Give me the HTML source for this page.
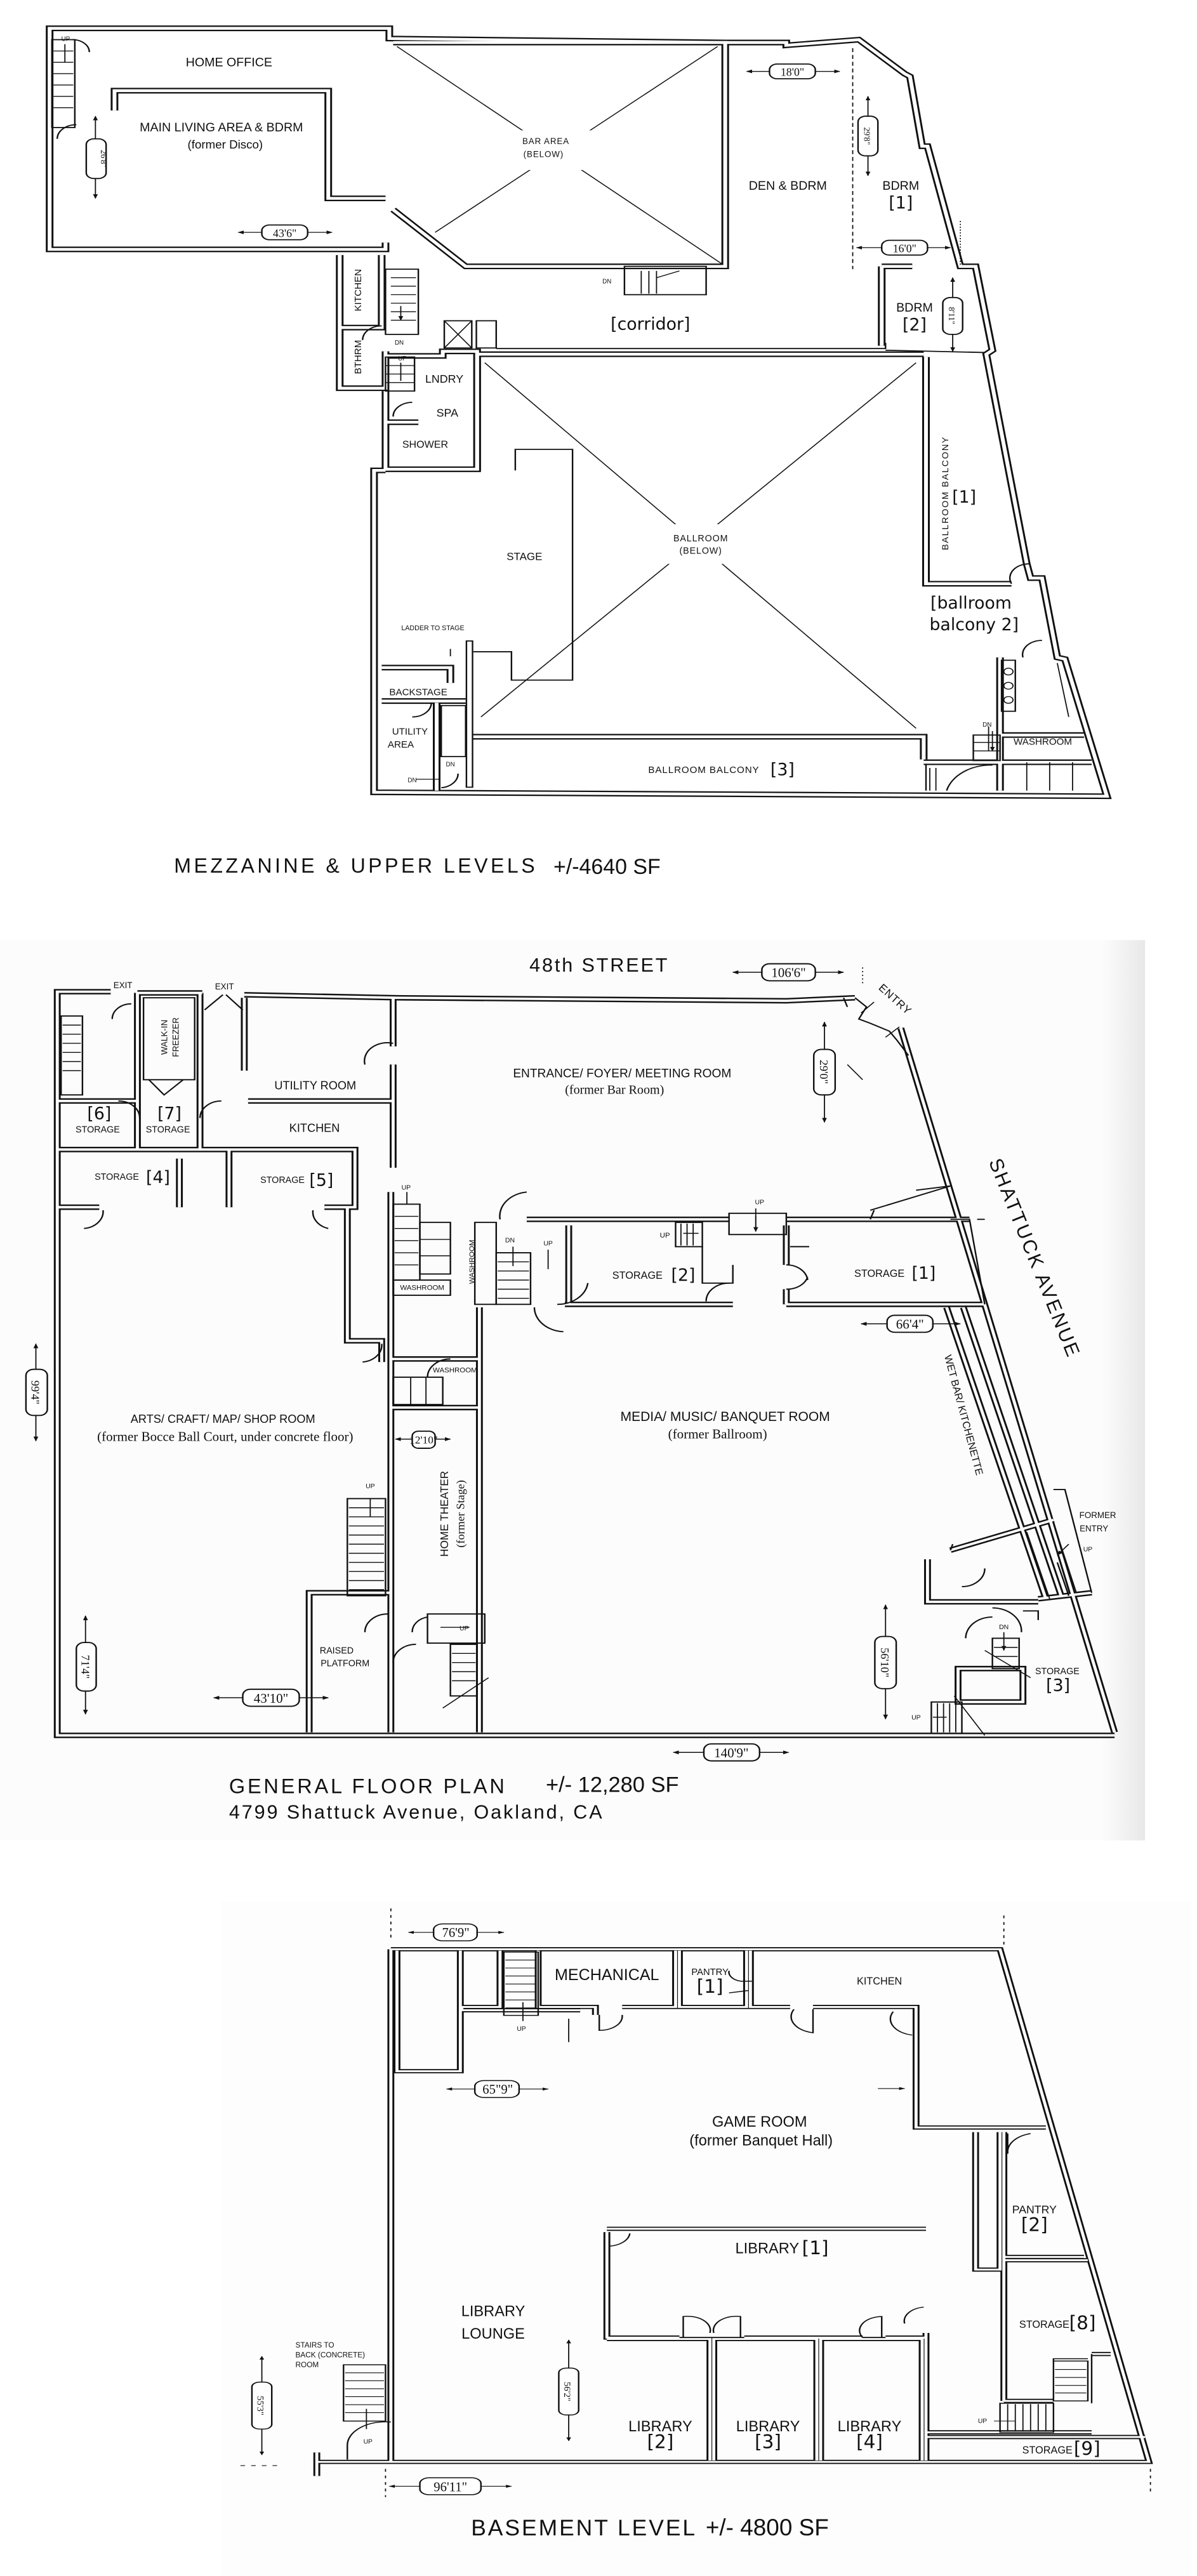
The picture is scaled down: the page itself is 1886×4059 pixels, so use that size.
<!DOCTYPE html>
<html><head><meta charset="utf-8"><style>
html,body{margin:0;padding:0;background:#fff}
svg{display:block}
text{font-family:"Liberation Sans",sans-serif;fill:#111}
.s{font-family:"Liberation Serif",serif}
.m{font-family:"DejaVu Sans","Liberation Sans",sans-serif}
.t{fill:none;stroke:#111;stroke-width:2}
.d{fill:none;stroke:#111;stroke-width:1.5}
.pill{fill:#fff;stroke:#111;stroke-width:2}
</style></head><body>
<svg width="1886" height="4059" viewBox="0 0 1886 4059" xmlns="http://www.w3.org/2000/svg">
<defs>
<marker id="ar" viewBox="0 0 10 10" refX="9" refY="5" markerWidth="8" markerHeight="8" orient="auto-start-reverse" markerUnits="userSpaceOnUse"><path d="M0,1 L10,5 L0,9 z" fill="#111"/></marker>
<linearGradient id="gs" x1="0" x2="1" y1="0" y2="0"><stop offset="0" stop-color="#fdfdfd"/><stop offset="1" stop-color="#e8e8e8"/></linearGradient>

<g id="w1">
<path d="M505,428 L505,440 L65,440 L65,50 L510,50 L510,68 L955,75 L1030,75 L1030,80 L1125,70 L1185,130 L1192,135 L1208,258 L1215,258 L1258,470 L1278,470 L1300,618 L1292,625 L1345,995 L1350,1020 L1365,1020 L1385,1160 L1395,1163 L1450,1405 L490,1398 L490,830 L505,830"/>
<path d="M445,450 L445,685 L505,685 L505,620 M445,578 L500,578 L500,450"/>
<path d="M505,690 L505,828 L625,828 L625,620 L580,620 L580,628 L505,628 M505,745 L548,745"/>
<path d="M515,75 L950,75 L950,470 L610,470 L515,370"/>
<path d="M625,625 L625,830 M625,625 L1210,625 M1213,630 L1213,1030 L1325,1030 M615,1300 L1210,1300 L1210,1340"/>
<path d="M1155,470 L1195,470 M1155,470 L1155,610"/>
<path d="M150,195 L150,160 L430,160 L430,350 L505,350"/>
<path d="M500,1178 L590,1178 L590,1205 M500,1237 L610,1237 M572,1240 L572,1395"/>
<path d="M1310,1160 L1310,1395 M1310,1297 L1420,1297 M1210,1345 L1430,1345"/>
</g>
<g id="w2">
<path d="M145,170 L75,170 L75,1395 L1460,1395 M1460,1390 L1180,230 M320,175 L520,180 L1030,185 L1120,180 M180,172 L265,172"/>
<path d="M75,430 L465,430 L465,525 L425,525 M75,525 L130,525 M235,445 L235,525 M300,430 L300,525 M75,350 L180,350 M180,172 L180,430 M262,172 L262,430"/>
<path d="M320,180 L320,300 M325,350 L515,350 M515,180 L515,260 M515,290 L515,460 M455,525 L455,745 L500,745 L500,780"/>
<path d="M512,500 L512,1390 M628,690 L628,1390 M512,855 L628,855 M512,775 L628,775"/>
<path d="M690,545 L955,545 M1030,545 L1270,545 M740,685 L960,685 M1030,685 L1290,685 M745,555 L745,685 M1030,555 L1030,620 M1030,660 L1030,685"/>
<path d="M1240,690 L1370,1170 M1262,690 L1390,1165"/>
<path d="M1215,1105 L1215,1175 L1360,1175 M1360,1170 L1430,1160 M1245,1090 L1380,1040"/>
<path d="M405,1390 L405,1160 L510,1160"/>
<path d="M1255,1285 L1340,1285 L1340,1340 L1255,1340 Z"/>
</g>
<g id="w3">
<path d="M512,232 L1310,232 L1505,1325 L415,1325 M512,232 L512,1325"/>
<path d="M520,235 L520,492 L603,492 L603,235 M605,362 L760,362 M605,362 L605,355 L655,355 L655,235"/>
<path d="M705,235 L705,355 L780,355 L780,372 M815,355 L885,355 L885,235 M890,235 L890,355 L978,355 L978,235 M983,235 L983,355 L1035,355 M1065,355 L1200,355 L1200,612 L1370,612"/>
<path d="M1278,622 L1278,915 L1310,915 L1310,622 M1315,622 L1315,1195 M1315,888 L1420,888 M1315,895 L1425,895 M1315,1195 L1380,1195 M1430,1095 L1455,1095"/>
<path d="M1213,1262 L1430,1262 M1213,1272 L1500,1272 M1213,1050 L1213,1322"/>
<path d="M795,828 L1213,828 M795,835 L795,1060 L890,1060 M975,1060 L1130,1060 M1160,1060 L1213,1060"/>
<path d="M795,1063 L930,1063 L930,1322 M935,1322 L935,1063 L1070,1063 L1070,1322 M1075,1322 L1075,1063 L1208,1063 L1208,1322"/>
<path d="M415,1305 L415,1355"/>
</g>
</defs>

<!-- ================= SECTION 1: MEZZANINE ================= -->
<g transform="scale(1.2028,0.893)">
<use href="#w1" fill="none" stroke="#111" stroke-width="10" stroke-linejoin="miter"/>
<use href="#w1" fill="none" stroke="#fff" stroke-width="5"/>
<path class="d" d="M520,82 L945,465 M940,82 L570,410 M635,640 L1200,1285 M1200,640 L630,1265"/>
<rect x="640" y="230" width="150" height="70" fill="#fff"/>
<rect x="840" y="925" width="150" height="70" fill="#fff"/>
<path class="t" d="M650,615 L1160,615 L1160,605 M1160,618 L1290,622"/>
<rect class="t" x="582" y="566" width="36" height="48"/><path class="d" d="M582,566 L618,614 M618,566 L582,614"/>
<rect class="t" x="624" y="566" width="26" height="48"/>
<rect class="t" x="505" y="475" width="43" height="115"/>
<path class="d" d="M512,490 L545,490 M512,505 L545,505 M512,520 L545,520 M512,535 L545,535 M512,550 L545,550 M512,565 L545,565"/>
<rect class="t" x="818" y="470" width="107" height="50"/><path class="d" d="M840,478 L840,518 M850,478 L850,518 M860,478 L860,518 M860,490 L890,478"/>
<rect class="t" x="505" y="630" width="38" height="60"/><path class="d" d="M505,645 L543,645 M505,660 L543,660 M505,675 L543,675"/>
<path class="t" d="M675,830 L675,793 L750,793 L750,1200 L670,1200 L670,1150 L620,1150"/>
<rect x="610" y="1130" width="10" height="260" fill="#111"/><rect x="612" y="1132" width="6" height="256" fill="#fff"/>
<rect class="t" x="578" y="1245" width="32" height="90"/>
<path class="d" d="M1117,85 L1117,475" stroke-dasharray="7,5"/>
<path class="d" d="M1258,390 L1258,470" stroke-dasharray="2,3"/>
<rect class="t" x="68" y="70" width="30" height="155"/><path class="d" d="M70,90 L96,90 M70,110 L96,110 M70,130 L96,130 M70,150 L96,150 M70,170 L96,170 M70,190 L96,190"/>
<path class="t" d="M75,245 A25,25 0 0 1 100,220 M95,70 A22,22 0 0 1 117,92"/>
<path class="t" d="M475,600 A25,25 0 0 1 500,575 M515,735 A25,25 0 0 1 540,710 M540,1265 A25,25 0 0 0 565,1240 M578,1390 A25,25 0 0 0 600,1365 M1325,1030 A25,25 0 0 1 1350,995 M1340,1160 A25,25 0 0 1 1365,1130"/>
<rect class="t" x="1312" y="1165" width="18" height="90"/>
<circle class="d" cx="1321" cy="1185" r="6"/><circle class="d" cx="1321" cy="1210" r="6"/><circle class="d" cx="1321" cy="1235" r="6"/>
<path class="d" d="M1385,1170 L1400,1265 M1345,1345 L1345,1395 M1375,1345 L1375,1395 M1405,1345 L1405,1395"/>
<rect class="t" x="1275" y="1297" width="35" height="45"/><path class="d" d="M1275,1310 L1310,1310 M1275,1325 L1310,1325"/>
<path class="t" d="M1213,1350 L1213,1395 M1240,1395 A60,60 0 0 1 1300,1350"/>
<path class="d" d="M1218,1355 L1218,1395 M1226,1355 L1226,1395"/>
<path class="d" d="M125,205 L125,245 M125,315 L125,350" marker-start="url(#ar)" marker-end="url(#ar)"/>
<rect class="pill" x="113" y="245" width="26" height="70" rx="10"/>
<path class="d" d="M312,410 L343,410 M403,410 L435,410" marker-start="url(#ar)" marker-end="url(#ar)"/>
<rect class="pill" x="343" y="397" width="60" height="26" rx="10"/>
<path class="d" d="M978,126 L1008,126 M1068,126 L1100,126" marker-start="url(#ar)" marker-end="url(#ar)"/>
<rect class="pill" x="1008" y="113" width="60" height="26" rx="10"/>
<path class="d" d="M1137,170 L1137,205 M1137,275 L1137,310" marker-start="url(#ar)" marker-end="url(#ar)"/>
<rect class="pill" x="1124" y="205" width="26" height="70" rx="10"/>
<path class="d" d="M1122,437 L1155,437 M1215,437 L1245,437" marker-start="url(#ar)" marker-end="url(#ar)"/>
<rect class="pill" x="1155" y="424" width="60" height="26" rx="10"/>
<path class="d" d="M1248,490 L1248,525 M1248,590 L1248,620" marker-start="url(#ar)" marker-end="url(#ar)"/>
<rect class="pill" x="1235" y="525" width="26" height="65" rx="10"/>
<path class="d" d="M85,78 L85,110 M525,640 L525,672 M590,1145 L590,1158 M1295,1282 L1295,1325 M545,1375 L575,1375 M1300,1290 L1300,1325" marker-end="url(#ar)"/>
<path class="d" d="M525,540 L525,565" marker-end="url(#ar)"/>

<text transform="translate(300,117) scale(0.742,1)" font-size="22" text-anchor="middle">HOME OFFICE</text>
<text transform="translate(290,232) scale(0.742,1)" font-size="22" text-anchor="middle">MAIN LIVING AREA &amp; BDRM</text>
<text transform="translate(295,262) scale(0.742,1)" font-size="21" text-anchor="middle">(former Disco)</text>
<text transform="translate(715,254) scale(0.742,1)" font-size="15" text-anchor="middle" letter-spacing="1">BAR AREA</text>
<text transform="translate(712,277) scale(0.742,1)" font-size="15" text-anchor="middle" letter-spacing="1">(BELOW)</text>
<text transform="translate(1032,335) scale(0.742,1)" font-size="22" text-anchor="middle">DEN &amp; BDRM</text>
<text transform="translate(1180,335) scale(0.742,1)" font-size="22" text-anchor="middle">BDRM</text>
<text class="m" transform="translate(1180,368) scale(0.742,1)" font-size="30" text-anchor="middle">[1]</text>
<text class="m" transform="translate(852,582) scale(0.742,1)" font-size="30" text-anchor="middle">[corridor]</text>
<text transform="translate(1198,550) scale(0.742,1)" font-size="22" text-anchor="middle">BDRM</text>
<text class="m" transform="translate(1198,583) scale(0.742,1)" font-size="30" text-anchor="middle">[2]</text>
<text transform="translate(473,512) scale(0.742,1) rotate(-90)" font-size="17" text-anchor="middle">KITCHEN</text>
<text transform="translate(473,630) scale(0.742,1) rotate(-90)" font-size="17" text-anchor="middle">BTHRM</text>
<text transform="translate(582,675) scale(0.742,1)" font-size="20" text-anchor="middle">LNDRY</text>
<text transform="translate(586,735) scale(0.742,1)" font-size="20" text-anchor="middle">SPA</text>
<text transform="translate(557,790) scale(0.742,1)" font-size="18" text-anchor="middle">SHOWER</text>
<text transform="translate(687,988) scale(0.742,1)" font-size="19" text-anchor="middle">STAGE</text>
<text transform="translate(918,955) scale(0.742,1)" font-size="16" text-anchor="middle" letter-spacing="1">BALLROOM</text>
<text transform="translate(918,977) scale(0.742,1)" font-size="16" text-anchor="middle" letter-spacing="1">(BELOW)</text>
<text transform="translate(1242,870) scale(0.742,1) rotate(-90)" font-size="16" text-anchor="middle" letter-spacing="2">BALLROOM BALCONY</text>
<text class="m" transform="translate(1263,887) scale(0.742,1)" font-size="30" text-anchor="middle">[1]</text>
<text class="m" transform="translate(1272,1074) scale(0.742,1)" font-size="30" text-anchor="middle">[ballroom</text>
<text class="m" transform="translate(1276,1112) scale(0.742,1)" font-size="30" text-anchor="middle">balcony 2]</text>
<text transform="translate(567,1112) scale(0.742,1)" font-size="12" text-anchor="middle">LADDER TO STAGE</text>
<text transform="translate(548,1227) scale(0.742,1)" font-size="17" text-anchor="middle">BACKSTAGE</text>
<text transform="translate(537,1296) scale(0.742,1)" font-size="17" text-anchor="middle">UTILITY</text>
<text transform="translate(525,1319) scale(0.742,1)" font-size="17" text-anchor="middle">AREA</text>
<text transform="translate(1366,1314) scale(0.742,1)" font-size="17" text-anchor="middle">WASHROOM</text>
<text transform="translate(922,1364) scale(0.742,1)" font-size="17" text-anchor="middle" letter-spacing="1">BALLROOM BALCONY</text>
<text class="m" transform="translate(1025,1368) scale(0.742,1)" font-size="30" text-anchor="middle">[3]</text>
<text transform="translate(86,72) scale(0.742,1)" font-size="11" text-anchor="middle">UP</text>
<text transform="translate(795,500) scale(0.742,1)" font-size="11" text-anchor="middle">DN</text>
<text transform="translate(523,608) scale(0.742,1)" font-size="11" text-anchor="middle">DN</text>
<text transform="translate(527,636) scale(0.742,1)" font-size="11" text-anchor="middle">UP</text>
<text transform="translate(590,1352) scale(0.742,1)" font-size="11" text-anchor="middle">DN</text>
<text transform="translate(540,1380) scale(0.742,1)" font-size="11" text-anchor="middle">DN</text>
<text transform="translate(1293,1282) scale(0.742,1)" font-size="11" text-anchor="middle">DN</text>
<text class="s" transform="translate(132,280) scale(0.742,1) rotate(90)" font-size="15" text-anchor="middle">26'8"</text>
<text class="s" transform="translate(373,418) scale(0.742,1)" font-size="20" text-anchor="middle">43'6"</text>
<text class="s" transform="translate(1038,134) scale(0.742,1)" font-size="20" text-anchor="middle">18'0"</text>
<text class="s" transform="translate(1132,240) scale(0.742,1) rotate(90)" font-size="15" text-anchor="middle">29'8"</text>
<text class="s" transform="translate(1185,445) scale(0.742,1)" font-size="20" text-anchor="middle">16'0"</text>
<text class="s" transform="translate(1243,557) scale(0.742,1) rotate(90)" font-size="15" text-anchor="middle">8'11"</text>
<text transform="translate(228,1540) scale(0.742,1)" font-size="36" letter-spacing="5" fill="#333">MEZZANINE &amp; UPPER LEVELS</text>
<text transform="translate(725,1542) scale(0.742,1)" font-size="38">+/-4640 SF</text>
</g>

<!-- ================= SECTION 2: GENERAL FLOOR ================= -->
<g transform="translate(0,1400) scale(1.2028,0.9566)">
<rect x="0" y="85" width="1500" height="1483" fill="#fcfcfc"/>
<rect x="1440" y="85" width="60" height="1483" fill="url(#gs)"/>
<use href="#w2" fill="none" stroke="#111" stroke-width="9"/>
<use href="#w2" fill="none" stroke="#fcfcfc" stroke-width="4"/>
<rect class="t" x="188" y="180" width="67" height="135"/>
<path class="t" d="M195,315 L215,340 L240,315"/>
<rect class="t" x="80" y="210" width="28" height="130"/>
<path class="d" d="M82,225 L106,225 M82,240 L106,240 M82,255 L106,255 M82,270 L106,270 M82,285 L106,285 M82,300 L106,300"/>
<path class="t" d="M147,215 A25,25 0 0 1 172,190 M268,200 L292,175 M296,175 L318,200 M155,350 A28,28 0 0 1 183,378 M262,378 A28,28 0 0 1 290,350"/>
<path class="t" d="M478,290 A30,30 0 0 1 515,255 M110,560 A28,28 0 0 0 135,530 M410,530 A28,28 0 0 0 430,560 M475,780 A28,28 0 0 0 500,750"/>
<path class="t" d="M1120,180 L1135,195 L1125,215 L1140,222 L1165,235 L1175,250 L1190,275 M1105,180 L1110,195"/>
<path class="d" d="M1128,205 L1145,187 M1160,245 L1178,228 M1130,315 L1110,290"/>
<path class="t" d="M1140,530 L1245,490 M1140,545 L1145,530 M1200,497 L1245,490"/>
<path class="t" d="M1245,545 L1270,545 L1290,685 M1280,545 L1290,545"/>
<rect class="t" x="955" y="535" width="75" height="35"/>
<path class="d" d="M990,540 L990,565" marker-end="url(#ar)"/>
<rect class="t" x="885" y="550" width="35" height="40"/><path class="d" d="M892,552 L892,588 M900,552 L900,588 M908,552 L908,588"/>
<path class="t" d="M920,590 L920,650 L960,650 L960,620"/>
<path class="t" d="M925,680 A30,30 0 0 1 955,650 M1030,620 A28,28 0 0 1 1058,645 M1030,660 A28,28 0 0 0 1058,640 M1035,590 L1060,590"/>
<rect class="t" x="515" y="520" width="35" height="125"/>
<path class="d" d="M517,540 L548,540 M517,560 L548,560 M517,580 L548,580 M517,600 L548,600 M517,620 L548,620"/>
<rect class="t" x="550" y="550" width="40" height="85"/><path class="d" d="M550,578 L590,578 M550,605 L590,605"/>
<rect class="t" x="515" y="645" width="75" height="25"/>
<rect class="t" x="622" y="550" width="28" height="135"/>
<rect class="t" x="650" y="600" width="45" height="85"/><path class="d" d="M652,615 L693,615 M652,630 L693,630 M652,645 L693,645 M652,660 L693,660 M652,675 L693,675"/>
<path class="t" d="M655,545 A40,40 0 0 1 690,500 M700,690 A40,40 0 0 0 738,730 M730,685 A40,40 0 0 0 770,650"/>
<rect class="t" x="515" y="805" width="65" height="45"/><path class="d" d="M538,805 L538,850 M558,805 L558,850"/>
<path class="t" d="M560,805 A30,30 0 0 1 590,775"/>
<rect class="t" x="455" y="1005" width="50" height="160"/>
<path class="d" d="M457,1020 L503,1020 M457,1035 L503,1035 M457,1050 L503,1050 M457,1065 L503,1065 M457,1080 L503,1080 M457,1095 L503,1095 M457,1110 L503,1110 M457,1125 L503,1125 M457,1140 L503,1140 M457,1155 L503,1155"/>
<path class="t" d="M478,1225 A30,30 0 0 1 508,1195 M515,1275 A30,30 0 0 1 545,1245 M540,1225 A25,25 0 0 1 560,1200"/>
<rect class="t" x="560" y="1195" width="75" height="48"/>
<rect class="t" x="590" y="1245" width="35" height="85"/>
<path class="d" d="M592,1260 L623,1260 M592,1275 L623,1275 M592,1290 L623,1290 M592,1305 L623,1305 M580,1350 L640,1300"/>
<rect class="t" x="1300" y="1235" width="35" height="50"/><path class="d" d="M1302,1250 L1333,1250 M1302,1265 L1333,1265 M1290,1255 L1350,1300"/>
<path class="t" d="M1265,1235 A35,35 0 0 1 1300,1200 M1300,1185 A38,38 0 0 1 1338,1225 M1340,1190 L1360,1190 L1360,1205"/>
<path class="t" d="M1260,1150 A30,30 0 0 0 1290,1120 M1245,1090 L1248,1080"/>
<rect class="t" x="1220" y="1340" width="40" height="52"/><path class="d" d="M1228,1342 L1228,1390 M1236,1342 L1236,1390 M1244,1342 L1244,1390 M1252,1342 L1252,1390 M1250,1330 L1290,1395"/>
<path class="t" d="M1380,990 L1395,990 L1430,1160 M1400,1165 L1385,1110"/>
<path class="d" d="M1345,1060 L1375,1170 M1380,1045 L1410,1160"/>
<path class="d" d="M960,138 L998,138 M1068,138 L1105,138" marker-start="url(#ar)" marker-end="url(#ar)"/>
<rect class="pill" x="998" y="124" width="70" height="28" rx="10"/>
<path class="d" d="M1130,130 L1130,160" stroke-dasharray="2,4"/>
<path class="d" d="M1080,220 L1080,265 M1080,340 L1080,385" marker-start="url(#ar)" marker-end="url(#ar)"/>
<rect class="pill" x="1066" y="265" width="28" height="75" rx="10"/>
<path class="d" d="M1128,717 L1162,717 M1222,717 L1258,717" marker-start="url(#ar)" marker-end="url(#ar)"/>
<rect class="pill" x="1162" y="703" width="60" height="28" rx="10"/>
<path class="d" d="M47,750 L47,792 M47,868 L47,910" marker-start="url(#ar)" marker-end="url(#ar)"/>
<rect class="pill" x="34" y="792" width="28" height="76" rx="10"/>
<path class="d" d="M518,907 L540,907 M570,907 L590,907" marker-start="url(#ar)" marker-end="url(#ar)"/>
<rect class="pill" x="540" y="894" width="30" height="28" rx="8"/>
<path class="d" d="M112,1198 L112,1242 M112,1322 L112,1360" marker-start="url(#ar)" marker-end="url(#ar)"/>
<rect class="pill" x="100" y="1242" width="26" height="80" rx="10"/>
<path class="d" d="M280,1333 L318,1333 M392,1333 L430,1333" marker-start="url(#ar)" marker-end="url(#ar)"/>
<rect class="pill" x="318" y="1319" width="74" height="28" rx="10"/>
<path class="d" d="M1160,1180 L1160,1232 M1160,1318 L1160,1368" marker-start="url(#ar)" marker-end="url(#ar)"/>
<rect class="pill" x="1146" y="1232" width="28" height="86" rx="10"/>
<path class="d" d="M882,1423 L922,1423 M995,1423 L1033,1423" marker-start="url(#ar)" marker-end="url(#ar)"/>
<rect class="pill" x="922" y="1409" width="73" height="28" rx="10"/>
<path class="d" d="M533,500 L533,520 M485,1005 L485,1035 M672,590 L672,622 M718,595 L718,627 M990,527 L990,560 M1315,1225 L1315,1255" marker-end="url(#ar)"/>
<path class="d" d="M915,568 L895,568 M615,1217 L577,1217 M1222,1365 L1240,1365 M1400,1080 L1385,1098" marker-end="url(#ar)"/>

<text transform="translate(785,137) scale(0.795,1)" font-size="32" text-anchor="middle" letter-spacing="3" fill="#333">48th STREET</text>
<text transform="translate(161,164) scale(0.795,1)" font-size="14" text-anchor="middle">EXIT</text>
<text transform="translate(294,166) scale(0.795,1)" font-size="14" text-anchor="middle">EXIT</text>
<text transform="translate(219,245) scale(0.795,1) rotate(-90)" font-size="14" text-anchor="middle">WALK-IN</text>
<text transform="translate(234,245) scale(0.795,1) rotate(-90)" font-size="14" text-anchor="middle">FREEZER</text>
<text class="m" transform="translate(130,380) scale(0.795,1)" font-size="28" text-anchor="middle">[6]</text>
<text transform="translate(128,402) scale(0.795,1)" font-size="15" text-anchor="middle">STORAGE</text>
<text class="m" transform="translate(222,380) scale(0.795,1)" font-size="28" text-anchor="middle">[7]</text>
<text transform="translate(220,402) scale(0.795,1)" font-size="15" text-anchor="middle">STORAGE</text>
<text transform="translate(413,331) scale(0.795,1)" font-size="19" text-anchor="middle">UTILITY ROOM</text>
<text transform="translate(412,401) scale(0.795,1)" font-size="19" text-anchor="middle">KITCHEN</text>
<text transform="translate(815,311) scale(0.795,1)" font-size="20" text-anchor="middle">ENTRANCE/ FOYER/ MEETING ROOM</text>
<text class="s" transform="translate(805,338) scale(0.795,1)" font-size="21" text-anchor="middle">(former Bar Room)</text>
<text transform="translate(153,480) scale(0.795,1)" font-size="15" text-anchor="middle">STORAGE</text>
<text class="m" transform="translate(207,485) scale(0.795,1)" font-size="28" text-anchor="middle">[4]</text>
<text transform="translate(370,485) scale(0.795,1)" font-size="15" text-anchor="middle">STORAGE</text>
<text class="m" transform="translate(421,490) scale(0.795,1)" font-size="28" text-anchor="middle">[5]</text>
<text transform="translate(1295,450) scale(0.795,1) rotate(68)" font-size="32" letter-spacing="3" fill="#333">SHATTUCK AVENUE</text>
<text transform="translate(835,643) scale(0.795,1)" font-size="17" text-anchor="middle">STORAGE</text>
<text class="m" transform="translate(895,646) scale(0.795,1)" font-size="28" text-anchor="middle">[2]</text>
<text transform="translate(1152,640) scale(0.795,1)" font-size="17" text-anchor="middle">STORAGE</text>
<text class="m" transform="translate(1210,643) scale(0.795,1)" font-size="28" text-anchor="middle">[1]</text>
<text transform="translate(553,661) scale(0.795,1)" font-size="12" text-anchor="middle">WASHROOM</text>
<text transform="translate(621,615) scale(0.795,1) rotate(-90)" font-size="12" text-anchor="middle">WASHROOM</text>
<text transform="translate(596,797) scale(0.795,1)" font-size="12" text-anchor="middle">WASHROOM</text>
<text transform="translate(1150,165) scale(0.795,1) rotate(42)" font-size="18" letter-spacing="1">ENTRY</text>
<text transform="translate(292,880) scale(0.795,1)" font-size="19" text-anchor="middle">ARTS/ CRAFT/ MAP/ SHOP ROOM</text>
<text class="s" transform="translate(295,910) scale(0.795,1)" font-size="22" text-anchor="middle">(former Bocce Ball Court, under concrete floor)</text>
<text transform="translate(950,877) scale(0.795,1)" font-size="22" text-anchor="middle">MEDIA/ MUSIC/ BANQUET ROOM</text>
<text class="s" transform="translate(940,906) scale(0.795,1)" font-size="22" text-anchor="middle">(former Ballroom)</text>
<text transform="translate(1237,770) scale(0.795,1) rotate(75)" font-size="17">WET BAR/ KITCHENETTE</text>
<text transform="translate(587,1030) scale(0.795,1) rotate(-90)" font-size="18" text-anchor="middle">HOME THEATER</text>
<text class="s" transform="translate(608,1030) scale(0.795,1) rotate(-90)" font-size="19" text-anchor="middle">(former Stage)</text>
<text transform="translate(1438,1037) scale(0.795,1)" font-size="14" text-anchor="middle">FORMER</text>
<text transform="translate(1433,1059) scale(0.795,1)" font-size="14" text-anchor="middle">ENTRY</text>
<text transform="translate(441,1260) scale(0.795,1)" font-size="15" text-anchor="middle">RAISED</text>
<text transform="translate(452,1281) scale(0.795,1)" font-size="15" text-anchor="middle">PLATFORM</text>
<text transform="translate(1385,1294) scale(0.795,1)" font-size="15" text-anchor="middle">STORAGE</text>
<text class="m" transform="translate(1386,1322) scale(0.795,1)" font-size="28" text-anchor="middle">[3]</text>
<text transform="translate(532,496) scale(0.795,1)" font-size="11" text-anchor="middle">UP</text>
<text transform="translate(995,520) scale(0.795,1)" font-size="11" text-anchor="middle">UP</text>
<text transform="translate(871,575) scale(0.795,1)" font-size="12" text-anchor="middle">UP</text>
<text transform="translate(668,583) scale(0.795,1)" font-size="11" text-anchor="middle">DN</text>
<text transform="translate(718,588) scale(0.795,1)" font-size="11" text-anchor="middle">UP</text>
<text transform="translate(485,988) scale(0.795,1)" font-size="11" text-anchor="middle">UP</text>
<text transform="translate(608,1222) scale(0.795,1)" font-size="11" text-anchor="middle">UP</text>
<text transform="translate(1315,1220) scale(0.795,1)" font-size="11" text-anchor="middle">DN</text>
<text transform="translate(1200,1369) scale(0.795,1)" font-size="11" text-anchor="middle">UP</text>
<text transform="translate(1425,1092) scale(0.795,1)" font-size="11" text-anchor="middle">UP</text>
<text class="s" transform="translate(1033,146) scale(0.795,1)" font-size="22" text-anchor="middle">106'6"</text>
<text class="s" transform="translate(1074,302) scale(0.795,1) rotate(90)" font-size="19" text-anchor="middle">29'0"</text>
<text class="s" transform="translate(1192,725) scale(0.795,1)" font-size="22" text-anchor="middle">66'4"</text>
<text class="s" transform="translate(41,830) scale(0.795,1) rotate(90)" font-size="19" text-anchor="middle">99'4"</text>
<text class="s" transform="translate(555,914) scale(0.795,1)" font-size="18" text-anchor="middle">12'10"</text>
<text class="s" transform="translate(107,1282) scale(0.795,1) rotate(90)" font-size="19" text-anchor="middle">71'4"</text>
<text class="s" transform="translate(355,1341) scale(0.795,1)" font-size="22" text-anchor="middle">43'10"</text>
<text class="s" transform="translate(1154,1275) scale(0.795,1) rotate(90)" font-size="19" text-anchor="middle">56'10"</text>
<text class="s" transform="translate(958,1431) scale(0.795,1)" font-size="22" text-anchor="middle">140'9"</text>
<text transform="translate(300,1490) scale(0.795,1)" font-size="34" letter-spacing="4" fill="#444">GENERAL FLOOR PLAN</text>
<text transform="translate(715,1488) scale(0.795,1)" font-size="36">+/- 12,280 SF</text>
<text transform="translate(300,1532) scale(0.795,1)" font-size="32" letter-spacing="3" fill="#444">4799 Shattuck Avenue, Oakland, CA</text>
</g>

<!-- ================= SECTION 3: BASEMENT ================= -->
<g transform="translate(0,2900) scale(1.2028,0.739)">
<rect x="290" y="130" width="1270" height="1438" fill="#fdfdfd"/>
<use href="#w3" fill="none" stroke="#111" stroke-width="9"/>
<use href="#w3" fill="none" stroke="#fff" stroke-width="4"/>
<rect class="t" x="660" y="238" width="45" height="135"/>
<path class="d" d="M662,255 L703,255 M662,272 L703,272 M662,289 L703,289 M662,306 L703,306 M662,323 L703,323 M662,340 L703,340 M662,357 L703,357"/>
<path class="t" d="M785,372 L785,405 A30,30 0 0 0 815,372 M1040,360 A35,35 0 0 0 1065,410 L1065,360 M1170,365 A35,35 0 0 0 1195,415 M955,278 A20,20 0 0 0 970,300 L985,300 M955,325 L980,320"/>
<path class="t" d="M1320,665 A40,40 0 0 1 1350,625 M1320,625 L1320,668"/>
<path class="t" d="M798,865 A30,30 0 0 0 825,838 M895,1060 L895,1015 A30,30 0 0 1 930,1050 M970,1060 L970,1015 A30,30 0 0 0 935,1050 M1130,1060 A30,30 0 0 1 1155,1015 L1155,1060 M1185,1030 A30,30 0 0 1 1210,995"/>
<rect class="t" x="1380" y="1110" width="45" height="85"/>
<path class="d" d="M1382,1128 L1423,1128 M1382,1145 L1423,1145 M1382,1162 L1423,1162 M1382,1178 L1423,1178"/>
<rect class="t" x="1310" y="1200" width="70" height="62"/>
<path class="d" d="M1320,1202 L1320,1260 M1330,1202 L1330,1260 M1340,1202 L1340,1260 M1350,1202 L1350,1260 M1360,1202 L1360,1260 M1370,1202 L1370,1260"/>
<path class="t" d="M1380,1110 L1380,1105 L1425,1105 M1430,1095 L1430,1200"/>
<rect class="t" x="450" y="1118" width="55" height="120"/>
<path class="d" d="M452,1135 L503,1135 M452,1152 L503,1152 M452,1169 L503,1169 M452,1186 L503,1186 M452,1203 L503,1203 M452,1220 L503,1220"/>
<path class="t" d="M455,1320 L455,1290 A50,50 0 0 1 512,1240"/>
<path class="d" d="M685,385 L685,345 M745,430 L745,380 M480,1255 L480,1212 M1302,1238 L1330,1238 M1150,529 L1185,529" marker-end="url(#ar)"/>
<path class="d" d="M535,196 L568,196 M625,196 L660,196" marker-start="url(#ar)" marker-end="url(#ar)"/>
<rect class="pill" x="568" y="178" width="57" height="36" rx="12"/>
<path class="d" d="M585,530 L622,530 M680,530 L718,530" marker-start="url(#ar)" marker-end="url(#ar)"/>
<rect class="pill" x="622" y="512" width="58" height="36" rx="12"/>
<path class="d" d="M343,1100 L343,1155 M343,1255 L343,1310" marker-start="url(#ar)" marker-end="url(#ar)"/>
<rect class="pill" x="330" y="1155" width="26" height="100" rx="10"/>
<path class="d" d="M745,1065 L745,1125 M745,1225 L745,1280" marker-start="url(#ar)" marker-end="url(#ar)"/>
<rect class="pill" x="732" y="1125" width="26" height="100" rx="10"/>
<path class="d" d="M510,1377 L550,1377 M630,1377 L670,1377" marker-start="url(#ar)" marker-end="url(#ar)"/>
<rect class="pill" x="550" y="1359" width="80" height="36" rx="12"/>
<path class="d" d="M512,145 L512,215 M1315,160 L1315,228 M1507,1340 L1507,1395 M505,1340 L505,1400 M315,1333 L365,1333" stroke-dasharray="6,8" stroke-width="2.5"/>

<text transform="translate(795,298) scale(0.614,1)" font-size="34" text-anchor="middle">MECHANICAL</text>
<text transform="translate(930,287) scale(0.614,1)" font-size="20" text-anchor="middle">PANTRY</text>
<text class="m" transform="translate(930,325) scale(0.614,1)" font-size="40" text-anchor="middle">[1]</text>
<text transform="translate(1152,307) scale(0.614,1)" font-size="22" text-anchor="middle">KITCHEN</text>
<text transform="translate(995,610) scale(0.614,1)" font-size="32" text-anchor="middle">GAME ROOM</text>
<text transform="translate(997,650) scale(0.614,1)" font-size="32" text-anchor="middle">(former Banquet Hall)</text>
<text transform="translate(1355,795) scale(0.614,1)" font-size="24" text-anchor="middle">PANTRY</text>
<text class="m" transform="translate(1355,833) scale(0.614,1)" font-size="40" text-anchor="middle">[2]</text>
<text transform="translate(1005,880) scale(0.614,1)" font-size="32" text-anchor="middle">LIBRARY</text>
<text class="m" transform="translate(1068,882) scale(0.614,1)" font-size="40" text-anchor="middle">[1]</text>
<text transform="translate(646,1014) scale(0.614,1)" font-size="32" text-anchor="middle">LIBRARY</text>
<text transform="translate(646,1062) scale(0.614,1)" font-size="32" text-anchor="middle">LOUNGE</text>
<text transform="translate(1368,1039) scale(0.614,1)" font-size="22" text-anchor="middle">STORAGE</text>
<text class="m" transform="translate(1418,1042) scale(0.614,1)" font-size="40" text-anchor="middle">[8]</text>
<text transform="translate(865,1260) scale(0.614,1)" font-size="32" text-anchor="middle">LIBRARY</text>
<text class="m" transform="translate(865,1296) scale(0.614,1)" font-size="40" text-anchor="middle">[2]</text>
<text transform="translate(1006,1260) scale(0.614,1)" font-size="32" text-anchor="middle">LIBRARY</text>
<text class="m" transform="translate(1006,1296) scale(0.614,1)" font-size="40" text-anchor="middle">[3]</text>
<text transform="translate(1139,1260) scale(0.614,1)" font-size="32" text-anchor="middle">LIBRARY</text>
<text class="m" transform="translate(1139,1296) scale(0.614,1)" font-size="40" text-anchor="middle">[4]</text>
<text transform="translate(1372,1307) scale(0.614,1)" font-size="22" text-anchor="middle">STORAGE</text>
<text class="m" transform="translate(1424,1310) scale(0.614,1)" font-size="40" text-anchor="middle">[9]</text>
<text transform="translate(387,1081) scale(0.614,1)" font-size="16">STAIRS TO</text>
<text transform="translate(387,1102) scale(0.614,1)" font-size="16">BACK (CONCRETE)</text>
<text transform="translate(387,1123) scale(0.614,1)" font-size="16">ROOM</text>
<text transform="translate(683,406) scale(0.614,1)" font-size="14" text-anchor="middle">UP</text>
<text transform="translate(482,1286) scale(0.614,1)" font-size="14" text-anchor="middle">UP</text>
<text transform="translate(1287,1242) scale(0.614,1)" font-size="14" text-anchor="middle">UP</text>
<text class="s" transform="translate(597,206) scale(0.614,1)" font-size="28" text-anchor="middle">76'9"</text>
<text class="s" transform="translate(652,540) scale(0.614,1)" font-size="28" text-anchor="middle">65"9"</text>
<text class="s" transform="translate(337,1205) scale(0.614,1) rotate(90)" font-size="20" text-anchor="middle">55'3"</text>
<text class="s" transform="translate(739,1175) scale(0.614,1) rotate(90)" font-size="20" text-anchor="middle">56'2"</text>
<text class="s" transform="translate(590,1388) scale(0.614,1)" font-size="28" text-anchor="middle">96'11"</text>
<text transform="translate(765,1482) scale(0.614,1)" font-size="48" text-anchor="middle" letter-spacing="4" fill="#222">BASEMENT LEVEL</text>
<text transform="translate(1005,1482) scale(0.614,1)" font-size="50" text-anchor="middle">+/- 4800 SF</text>
</g>
</svg>
</body></html>
